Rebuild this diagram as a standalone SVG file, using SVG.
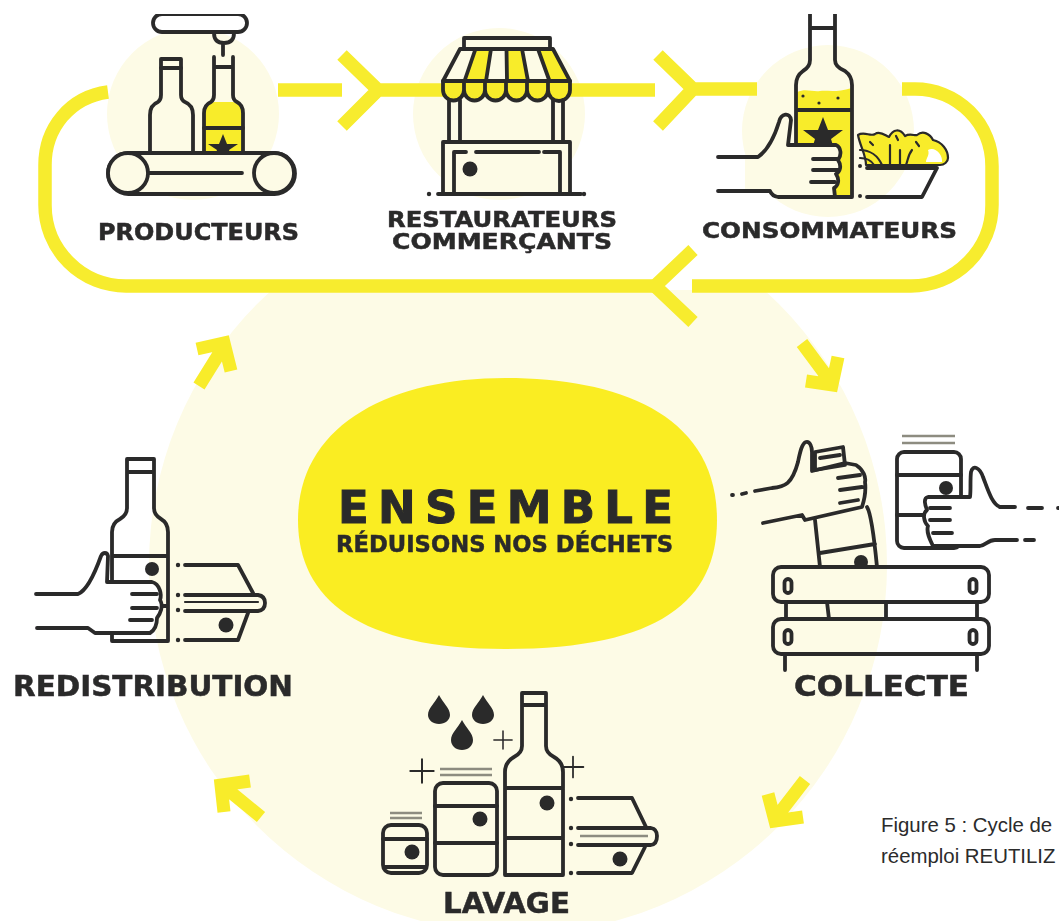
<svg xmlns="http://www.w3.org/2000/svg" width="1060" height="921" viewBox="0 0 1060 921">
<style>
.s{fill:none;stroke:#2b2a2b;stroke-width:3.8;stroke-linecap:round;stroke-linejoin:round}
.t{stroke-width:2.2}
.g{stroke:#8d8c80;stroke-width:2.4;stroke-linecap:butt}
.c{fill:#fdfbe6}
.w{fill:#fff}
.y{fill:#f8ec2b}
.b{fill:#2b2a2b;stroke:none}
.band{fill:none;stroke:#f7ec2e;stroke-width:13.500;stroke-linejoin:miter}
.arr{fill:none;stroke:#f8ec2b;stroke-width:13;stroke-linejoin:miter}
.l{font-family:"DejaVu Sans","Liberation Sans",sans-serif;font-weight:700;fill:#2b2a2b;stroke:#2b2a2b;stroke-width:.5}
.cap{font-family:"Liberation Sans",Arial,sans-serif;font-size:20.400px;fill:#2b2b2b}
</style>
<defs>
<filter id="soft" x="0" y="0" width="100%" height="100%"><feGaussianBlur stdDeviation="0.55"/></filter>
<clipPath id="below"><rect x="0" y="290" width="1060" height="631"/></clipPath>
<path id="plus" d="M-13,0H13M0,-13V13"/>
</defs>
<rect width="1060" height="921" fill="#fff"/>
<g filter="url(#soft)">
<g id="background">
<circle cx="518" cy="565" r="369" class="c" clip-path="url(#below)"/>
<circle cx="193" cy="114" r="86" class="c"/>
<circle cx="499" cy="114" r="86" class="c"/>
<circle cx="828" cy="131" r="86" class="c"/>
</g>
<g id="connectors">
<path class="band" d="M108,92C70,97 45,128 45,165V205A81,81 0 0 0 126,286H655"/>
<path class="band" d="M693,250L655,286L693,322"/>
<path class="band" d="M692,286H911A81,81 0 0 0 992,205V166A77,77 0 0 0 915,89H902"/>
<path class="band" d="M278,90H342"/>
<path class="band" d="M342,55L378,90L342,126M378,90H446"/>
<path class="band" d="M570,90H655"/>
<path class="band" d="M658,55L693,89L658,126M693,89H757"/>
<path class="arr" d="M197,349L224,343L231,371M199,386L222,349"/>
<path class="arr" d="M806,381L832,385L838,357M802,343L828,378"/>
<path class="arr" d="M803,817L775,821L768,794M805,780L778,815"/>
<path class="arr" d="M250,781L221,785L224,812M261,817L228,790"/>
</g>
<g id="ensemble">
<path d="M505,378C620,378 717,415 717,520C717,600 660,649 505,649C360,649 298,600 298,520C298,425 390,378 505,378Z" fill="#faed24"/>
<text class="l" x="338" y="523" font-size="45" textLength="335" lengthAdjust="spacing" style="stroke-width:1">ENSEMBLE</text>
<text class="l" x="336" y="552" font-size="23" textLength="337" lengthAdjust="spacingAndGlyphs">RÉDUISONS NOS DÉCHETS</text>
</g>
<g id="producteurs">
<rect x="153" y="14" width="94" height="18" rx="9" class="s w"/>
<path class="s" d="M214,33C214,40 218,43 224,43C230,43 234,40 234,33M223,43V55"/>
<path class="s c" d="M150,153V115Q150,105 158,102Q161,100 161,95V59H181V95Q181,100 185,102Q193,105 193,115V153"/>
<path class="s" d="M161,68H181"/>
<path class="y" d="M204,153V113Q204,104 214,102H233Q243,104 243,113V153Z"/>
<path class="s" d="M204,153V113Q204,105 211,102Q214,100 214,95V57M233,57V95Q233,100 237,102Q243,105 243,113V153M214,67H233"/>
<path class="s" d="M204,128H243"/>
<polygon class="b" points="223,134 227,144 238,144 229,150 232,158 223,154 214,158 217,150 208,144 219,144"/>
<rect x="108" y="153" width="187" height="41" rx="20.500" class="s c"/>
<circle cx="128" cy="173" r="20" class="s c"/>
<circle cx="274" cy="173" r="20" class="s c"/>
<path class="s" d="M149,173H242"/>
<text class="l" x="98" y="240" font-size="23" textLength="201" lengthAdjust="spacingAndGlyphs">PRODUCTEURS</text>
</g>
<g id="restaurateurs">
<rect x="464" y="38" width="86" height="11" class="s c"/>
<path class="c" d="M460,49H553L570,81H443Z"/>
<path class="y" d="M475.500,49H491L486,81H464.500Z"/>
<path class="y" d="M506.500,49H522L528,81H507Z"/>
<path class="y" d="M538,49H553L570,81H549.500Z"/>
<path class="s" d="M460,49H553L570,81H443ZM475.500,49L464.500,81M491,49L486,81M506.500,49L507,81M522,49L528,81M538,49L549.500,81"/>
<path class="s y" d="M443,81V90A10.500,10.500 0 0 0 464,90V81ZM464,81V90A10.500,10.500 0 0 0 485,90V81ZM485,81V90A10.500,10.500 0 0 0 506,90V81ZM506,81V90A10.500,10.500 0 0 0 527,90V81ZM527,81V90A10.500,10.500 0 0 0 548,90V81ZM548,81V90A11,11 0 0 0 570,90V81Z"/>
<path class="s" d="M449,100V142M460,100V142M553,100V142M563,100V142"/>
<rect x="443" y="142" width="127" height="52" class="s c"/>
<path class="s" d="M454,194V152H466M476,152H539M544,152H560V194M438,194H581"/>
<circle cx="470" cy="169" r="7.500" class="b"/>
<circle cx="429" cy="194" r="2.200" class="b"/>
<circle cx="584" cy="194" r="2.200" class="b"/>
<text class="l" x="387" y="227" font-size="21" textLength="230" lengthAdjust="spacingAndGlyphs">RESTAURATEURS</text>
<text class="l" x="392" y="249" font-size="21" textLength="220" lengthAdjust="spacingAndGlyphs">COMMERÇANTS</text>
</g>
<g id="consommateurs">
<path class="y" d="M797,92C806,88 812,92 820,91C828,90 835,93 852,88V197H797Z"/>
<path class="s" d="M810,14V60Q810,67 803,71Q796,76 796,85V197H852V85Q852,76 845,71Q835,67 835,60V14M810,28H835M796,110H852"/>
<circle cx="803" cy="96" r="1.600" class="b"/>
<circle cx="819" cy="103" r="1.600" class="b"/>
<circle cx="838" cy="98" r="1.600" class="b"/>
<polygon class="b" points="823,117 828,130 843,130 831,139 835,152 823,145 811,152 815,139 803,130 818,130"/>
<path class="c" d="M745,157H758C768,150 775,135 779,122C781,113 790,112 791,120L788,145H836C841,147 842,155 838,160C842,166 840,172 836,174C840,180 838,186 834,188L835,197H778Q772,196 770,191H745Z"/>
<path class="s" d="M718,157H758C768,150 775,135 779,122C781,113 790,112 791,120L788,145H836C841,147 842,155 838,160C842,166 840,172 836,174C840,180 838,186 834,188L835,197H778Q772,196 770,191H718"/>
<path class="s" d="M813,159H838M813,170H838M811,182H835"/>
<circle cx="860" cy="166" r="2" class="b"/>
<circle cx="860" cy="196" r="2" class="b"/>
<path class="s" d="M867,168H937L922,197H867"/>
<path class="s t y" d="M858,135C864,131 871,137 875,134C880,130 886,136 889,137C893,129 900,128 905,136C910,133 915,136 917,135C923,130 930,134 933,140C942,142 948,150 948,158C948,162 944,165 940,165H866C866,155 860,146 858,135Z"/>
<path class="s t" d="M860,150C870,150 878,156 882,165M860,158C866,158 871,160 874,165M890,145V165M900,150V165M912,150C908,155 908,160 906,165M870,142L873,145M896,136L898,140M916,142L919,146"/>
<path class="w" d="M928,150C935,146 943,155 942,162L926,162C926,158 930,155 928,150Z"/>
<text class="l" x="702" y="238" font-size="22" textLength="255" lengthAdjust="spacingAndGlyphs">CONSOMMATEURS</text>
</g>
<g id="collecte">
<path class="s" d="M815,520L820,567M867,507Q872,515 877,567M820,553L875,544"/>
<circle cx="861" cy="562" r="7" class="b"/>
<path class="s" d="M815,452L843,447L845,465L815,470ZM820,458L840,455"/>
<path class="s" d="M732,495H733M742,494L746,493M755,491L772,488C785,487 792,484 798,462C800,452 802,443 806,442C810,441 812,447 812,452V471L845,463L856,465C864,470 866,478 865,482C866,490 865,498 862,507L805,520L802,515L763,523M838,478L860,475M840,490L862,487M840,503L858,500"/>
<rect x="773" y="567" width="216" height="35" rx="8" class="s"/>
<rect x="773" y="619" width="216" height="35" rx="8" class="s"/>
<path class="s" d="M786,602V619M827,602L829,619M886,602V619M977,602V619M785,654V670M977,654V670"/>
<rect x="784.500" y="579" width="7" height="14" rx="3.500" class="s"/>
<rect x="969.500" y="579" width="7" height="14" rx="3.500" class="s"/>
<rect x="784.500" y="630" width="7" height="14" rx="3.500" class="s"/>
<rect x="969.500" y="630" width="7" height="14" rx="3.500" class="s"/>
<rect x="897" y="452" width="64" height="96" rx="7" class="s w"/>
<path class="s" d="M897,475H961M897,515H925"/>
<path class="g" d="M902,436H955M902,443H955"/>
<circle cx="946" cy="488" r="7" class="b"/>
<path class="s w" d="M1000,507C992,504 988,490 983,477C980,468 973,464 971,472C970,480 971,490 970,497H928C923,498 925,505 927,510C922,514 924,522 928,526C926,532 930,540 933,546H980C986,545 988,540 995,540H1017"/>
<path class="s" d="M1000,507H1015M1028,508H1042M1058,508H1059M1025,540H1034M930,508H950M930,520H950M933,533H952"/>
<text class="l" x="794" y="696" font-size="28" textLength="175" lengthAdjust="spacingAndGlyphs">COLLECTE</text>
</g>
<g id="lavage">
<path class="b" d="M439,695C443,703 450,708 450,715C450,720 445,724 439,724C433,724 428,720 428,715C428,708 435,703 439,695Z"/>
<path class="b" d="M483,695C487,703 494,708 494,715C494,720 489,724 483,724C477,724 472,720 472,715C472,708 479,703 483,695Z"/>
<path class="b" d="M462,720C466,728 473,733 473,740C473,746 468,750 462,750C456,750 451,746 451,740C451,733 458,728 462,720Z"/>
<use href="#plus" class="s t" transform="translate(503 740) scale(.7)"/>
<use href="#plus" class="s t" transform="translate(422 771) scale(.9)"/>
<use href="#plus" class="s t" transform="translate(573 767) scale(.8)"/>
<path class="s" d="M505,875V772Q505,762 514,757Q522,753 522,746V693H546V746Q546,753 554,757Q563,762 563,772V875ZM522,705H546M505,788H563M505,838H563"/>
<circle cx="547" cy="803" r="7.500" class="b"/>
<rect x="435" y="783" width="62" height="92" rx="8" class="s"/>
<path class="s" d="M435,806H497M435,843H497"/>
<path class="g" d="M440,769H492M440,775H492"/>
<circle cx="480" cy="819" r="7.500" class="b"/>
<rect x="383" y="825" width="44" height="48" rx="8" class="s"/>
<path class="s" d="M383,839H427M385,867H425"/>
<path class="g" d="M390,813H422M390,818H422"/>
<circle cx="412" cy="852" r="7.500" class="b"/>
<circle cx="571" cy="799" r="2.200" class="b"/>
<circle cx="571" cy="828" r="2.200" class="b"/>
<circle cx="571" cy="844" r="2.200" class="b"/>
<circle cx="571" cy="873" r="2.200" class="b"/>
<path class="s" d="M578,798H632L646,827M578,828H651Q657,829 657,836Q657,844 651,845H578M645,847L632,873H578"/>
<path class="g" d="M580,836H648"/>
<circle cx="620" cy="859" r="7.500" class="b"/>
<text class="l" x="443" y="913" font-size="29" textLength="127" lengthAdjust="spacingAndGlyphs">LAVAGE</text>
</g>
<g id="redistribution">
<path class="s" d="M112,641V532Q112,523 120,519Q127,515 127,508V459H154V508Q154,515 161,519Q168,523 168,532V641ZM127,472H154M112,556H168M162,606H168"/>
<circle cx="152" cy="569" r="7" class="b"/>
<path class="s w" d="M36,594H78C88,590 96,570 101,556C103,552 107,552 108,556L107,582H152C160,584 162,595 160,600C164,606 160,614 157,618C157,624 155,630 150,633H95L88,628H37"/>
<path class="s" d="M132,594H157M132,608H157M130,620H152"/>
<circle cx="178" cy="565" r="2.200" class="b"/>
<circle cx="178" cy="595" r="2.200" class="b"/>
<circle cx="178" cy="610" r="2.200" class="b"/>
<circle cx="178" cy="640" r="2.200" class="b"/>
<path class="s" d="M185,565H238L253,593M185,595H258Q265,596 265,603Q265,610 258,611H185M248,613L238,640H185"/>
<path class="s t" d="M185,602H258"/>
<circle cx="226" cy="625" r="7.500" class="b"/>
<text class="l" x="13" y="696" font-size="28" textLength="280" lengthAdjust="spacingAndGlyphs">REDISTRIBUTION</text>
</g>
</g>
<g id="caption">
<text class="cap" x="881" y="832">Figure 5 : Cycle de</text>
<text class="cap" x="881" y="863">réemploi REUTILIZ</text>
</g>
</svg>
